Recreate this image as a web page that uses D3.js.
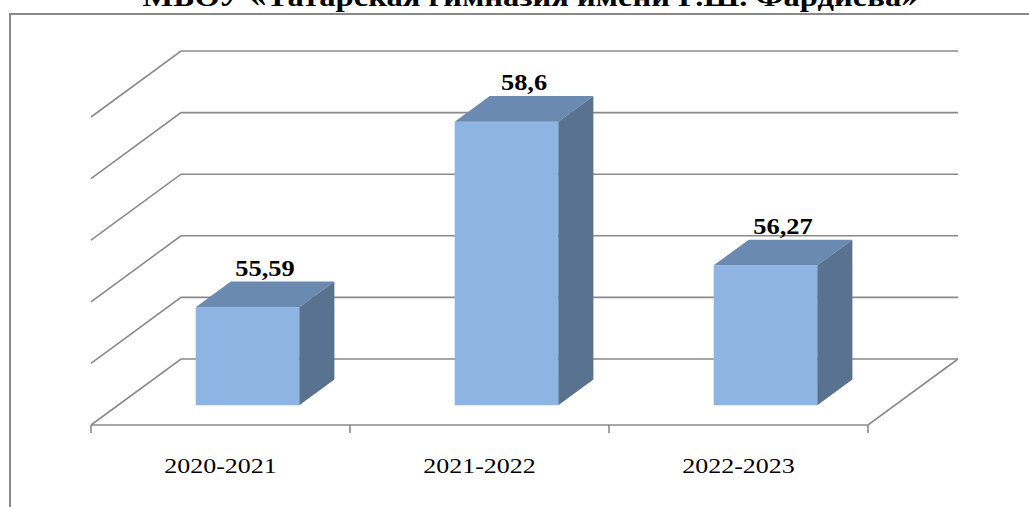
<!DOCTYPE html>
<html>
<head>
<meta charset="utf-8">
<script src="https://cdn.jsdelivr.net/npm/d3@7"></script>
<style>
  html, body { margin: 0; padding: 0; background: #fff; overflow: hidden; }
</style>
</head>
<body>
<svg id="chart_svg" width="1029" height="507"></svg>
<script>
const title = "МБОУ «Татарская гимназия имени Г.Ш. Фардиева»"
const categories = ["2020-2021", "2021-2022", "2022-2023"]
const values = [55.59, 58.6, 56.27]
const value_labels = ["55,59", "58,6", "56,27"]
const y_ticks = [54, 55, 56, 57, 58, 59]

const floor = { left: 91, right: 868, front: 425 }
const depth = { dx: 90, dy: 66 }
const bar_z = [0.3, 0.69]
const font = "'Liberation Serif', Tinos, 'Nimbus Roman', 'Times New Roman', Times, serif"

const colors = {
  grid: "#8a8a8a",
  front: "#8eb4e3",
  top: "#6b8ab1",
  side: "#58728f",
}

let svg = d3.select("#chart_svg")

// frame around the chart area (runs off the picture right and bottom)
svg.append("rect")
  .attr("x", 10).attr("y", 14)
  .attr("width", 1040).attr("height", 520)
  .attr("fill", "none")
  .attr("stroke", "#888")
  .attr("stroke-width", 2)

const xScale = d3.scaleBand()
  .domain(categories)
  .range([floor.left, floor.right])
  .paddingInner(0.6)
  .paddingOuter(0.3)

const yScale = d3.scaleLinear()
  .domain([54, 59])
  .range([floor.front, floor.front - 308])

// project a point on the front plane back by z (0..1)
const proj = (x, y, z) => [x + depth.dx * z, y - depth.dy * z]
const line = d3.line()

let g_grid = svg.append("g").attr("class", "grid")

g_grid.selectAll(".grid_line")
  .data(y_ticks)
  .join("path")
  .attr("class", "grid_line")
  .attr("fill", "none")
  .attr("stroke", colors.grid)
  .attr("stroke-width", 1.6)
  .attr("d", (t) => line([
    proj(floor.left, yScale(t), 0),
    proj(floor.left, yScale(t), 1),
    proj(floor.right, yScale(t), 1),
  ]))

// floor: front edge and right edge
g_grid.append("path")
  .attr("fill", "none")
  .attr("stroke", colors.grid)
  .attr("stroke-width", 1.6)
  .attr("d", line([
    proj(floor.left, floor.front, 0),
    proj(floor.right, floor.front, 0),
    proj(floor.right, floor.front, 1),
  ]))

// category ticks
let tick_x = categories.map((c) => xScale(c) - xScale.step() * xScale.paddingInner() / 2)
tick_x.push(floor.right)
g_grid.selectAll(".x_tick")
  .data(tick_x)
  .join("line")
  .attr("class", "x_tick")
  .attr("x1", (d) => d).attr("x2", (d) => d)
  .attr("y1", floor.front).attr("y2", floor.front + 8)
  .attr("stroke", colors.grid)
  .attr("stroke-width", 1.6)

let data = categories.map((c, i) => ({ category: c, value: values[i], label: value_labels[i] }))

let g_bars = svg.append("g").attr("class", "bars")
let bars = g_bars.selectAll(".bar").data(data).join("g").attr("class", "bar")

const x0 = (d) => xScale(d.category)
const x1 = (d) => xScale(d.category) + xScale.bandwidth()

bars.append("path")
  .attr("fill", colors.front)
  .attr("d", (d) => line([
    proj(x0(d), floor.front, bar_z[0]),
    proj(x1(d), floor.front, bar_z[0]),
    proj(x1(d), yScale(d.value), bar_z[0]),
    proj(x0(d), yScale(d.value), bar_z[0]),
  ]) + "Z")

bars.append("path")
  .attr("fill", colors.top)
  .attr("d", (d) => line([
    proj(x0(d), yScale(d.value), bar_z[0]),
    proj(x1(d), yScale(d.value), bar_z[0]),
    proj(x1(d), yScale(d.value), bar_z[1]),
    proj(x0(d), yScale(d.value), bar_z[1]),
  ]) + "Z")

bars.append("path")
  .attr("fill", colors.side)
  .attr("d", (d) => line([
    proj(x1(d), floor.front, bar_z[0]),
    proj(x1(d), floor.front, bar_z[1]),
    proj(x1(d), yScale(d.value), bar_z[1]),
    proj(x1(d), yScale(d.value), bar_z[0]),
  ]) + "Z")

// stretch text a little, the picture is wider than the font
function stretch(sel, k) {
  sel.each(function () {
    let w = this.getComputedTextLength()
    d3.select(this).attr("textLength", w * k).attr("lengthAdjust", "spacingAndGlyphs")
  })
}

bars.append("text")
  .attr("class", "value_label")
  .attr("x", (d) => proj(x0(d) + xScale.bandwidth() / 2, 0, (bar_z[0] + bar_z[1]) / 2)[0])
  .attr("y", (d) => proj(0, yScale(d.value), bar_z[1])[1] - 6)
  .attr("text-anchor", "middle")
  .style("font-family", font)
  .attr("font-size", 24)
  .attr("font-weight", "bold")
  .text((d) => d.label)
  .call(stretch, 1.1)

svg.append("g").selectAll(".x_label")
  .data(categories)
  .join("text")
  .attr("class", "x_label")
  .attr("x", (d) => xScale(d) + xScale.bandwidth() / 2)
  .attr("y", 473)
  .attr("text-anchor", "middle")
  .style("font-family", font)
  .attr("font-size", 22)
  .text((d) => d)
  .call(stretch, 1.18)

svg.append("text")
  .attr("class", "title")
  .attr("x", 530)
  .attr("y", 6)
  .attr("text-anchor", "middle")
  .style("font-family", font)
  .attr("font-size", 28)
  .attr("font-weight", "bold")
  .attr("textLength", 775)
  .attr("lengthAdjust", "spacingAndGlyphs")
  .text(title)
</script>
</body>
</html>
